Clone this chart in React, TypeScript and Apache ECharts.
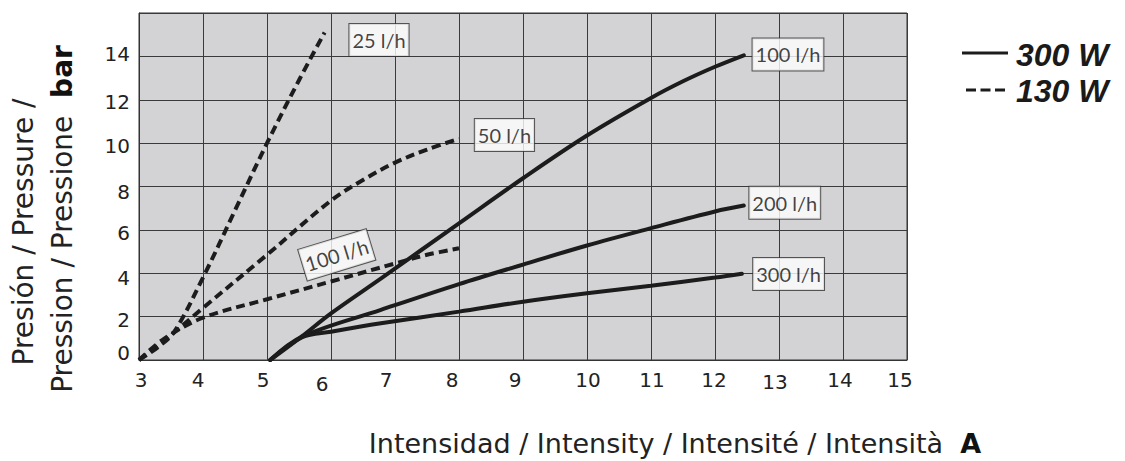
import React, { useEffect, useRef } from 'react';
import * as echarts from 'echarts';

// ---- data (Intensity A, Pressure bar) ----
const xMin = 3;
const xMax = 15;
const yMin = 0;
const yMax = 16;

// 130 W (dashed)
const dashed25 = [[3, 0], [3.3, 0.6], [3.55, 1.3], [4, 3.8], [4.5, 6.9], [5, 10], [5.5, 12.9], [5.9, 15.1]];
const dashed50 = [[3, 0], [3.4, 0.9], [4, 2.4], [5, 4.85], [6, 7.35], [6.5, 8.3], [7, 9.1], [7.5, 9.7], [8, 10.2]];
const dashed100 = [[3, 0], [3.4, 1.0], [4, 1.95], [5, 2.8], [6, 3.62], [7, 4.45], [7.5, 4.85], [8, 5.15]];

// 300 W (solid)
const solid100 = [[5.05, 0], [5.55, 1.1], [6, 2.15], [6.8, 3.8], [8, 6.3], [9, 8.38], [10, 10.35], [11, 12.08], [11.5, 12.85], [12, 13.52], [12.45, 14.05]];
const solid200 = [[5.05, 0], [5.55, 1.08], [6.78, 2.31], [8, 3.5], [9, 4.4], [10, 5.28], [11, 6.08], [12, 6.85], [12.45, 7.12]];
const solid300 = [[5.05, 0], [5.55, 1.05], [6, 1.3], [6.78, 1.69], [8, 2.23], [9, 2.69], [10, 3.08], [11, 3.42], [12, 3.8], [12.42, 3.98]];

// curve labels (anchor in data units)
const labelNames = ['25 l/h', '50 l/h', '100 l/h', '100 l/h', '200 l/h', '300 l/h'];
const labelX = [6.75, 8.71, 6.09, 13.14, 13.09, 13.15];
const labelY = [14.75, 10.38, 4.85, 14.09, 7.25, 3.97];
const labelRotate = [0, 0, 17, 0, 0, 0];

const legendNames = ['300 W', '130 W'];
const xTitle = 'Intensidad / Intensity / Intensité / Intensità  ';
const xUnit = 'A';
const yTitle1 = 'Presión / Pressure /';
const yTitle2 = 'Pression / Pressione  ';
const yUnit = 'bar';

// small per-label nudges of the tick labels (style only)
const xLabelShift: Record<number, [number, number]> = {
  3: [2, 0], 4: [-5, 0], 5: [-4, 0], 6: [-9, 4], 7: [-9, 0], 8: [-7, 0], 9: [-8, 0],
  10: [1, 0], 11: [1, 0], 12: [-1, 0], 13: [-4, 2], 14: [-3, 0], 15: [-7, 0],
};
const yLabelShift: Record<number, number> = { 0: -7, 2: 3, 4: 5, 6: 3, 8: 5, 10: 3, 12: 2, 14: -2 };

const FONT = 'DejaVu Sans';
const BOX_FONT = 'Lato';
const INK = '#1c1c1c';

function buildRichX() {
  const rich: Record<string, any> = {};
  Object.keys(xLabelShift).forEach((k) => {
    const [dx, dy] = xLabelShift[Number(k)];
    rich['x' + k] = {
      padding: [Math.max(dy, 0), dx < 0 ? -2 * dx : 0, 0, dx > 0 ? 2 * dx : 0],
    };
  });
  return rich;
}
function buildRichY() {
  const rich: Record<string, any> = {};
  Object.keys(yLabelShift).forEach((k) => {
    const dy = yLabelShift[Number(k)];
    rich['y' + k] = {
      padding: [dy > 0 ? 2 * dy : 0, 0, dy < 0 ? -2 * dy : 0, 0],
    };
  });
  return rich;
}

export default function App() {
  const ref = useRef<HTMLDivElement>(null);
  useEffect(() => {
    if (!ref.current) return;
    const chart = echarts.init(ref.current, null, { renderer: 'svg' });
    const solidStyle = { color: INK, width: 4, type: 'solid' as const, cap: 'round' as const };
    const dashStyle = { color: INK, width: 4, type: [9, 5] as any, cap: 'butt' as const };
    const mk = (name: string, data: number[][], ls: any) => ({
      type: 'line', name, data, showSymbol: false, smooth: 0.35,
      lineStyle: ls, silent: true, z: 3,
    });
    const labelData = labelNames.map((n, i) => ({
      name: n,
      value: [labelX[i], labelY[i]],
      label: { rotate: labelRotate[i] },
    }));
    const option: any = {
      animation: false,
      textStyle: { fontFamily: FONT },
      grid: {
        left: 139, right: 218, top: 13, bottom: 101, show: true,
        backgroundColor: '#d3d3d5', borderColor: '#333', borderWidth: 1,
      },
      xAxis: {
        type: 'value', min: xMin, max: xMax, interval: 1,
        axisLine: { show: true, lineStyle: { color: '#333', width: 1 } },
        axisTick: { show: false },
        splitLine: { show: true, lineStyle: { color: '#3a3a3a', width: 1 } },
        axisLabel: {
          margin: 10, fontSize: 20, color: '#222', fontFamily: FONT,
          formatter: (v: number) => `{x${v}|${v}}`, rich: buildRichX(),
        },
      },
      yAxis: {
        type: 'value', min: yMin, max: yMax, interval: 2,
        axisLine: { show: true, lineStyle: { color: '#333', width: 1 } },
        axisTick: { show: false },
        splitLine: { show: true, lineStyle: { color: '#3a3a3a', width: 1 } },
        axisLabel: {
          margin: 9, fontSize: 20, color: '#222', fontFamily: FONT,
          formatter: (v: number) => (v === yMax ? '' : `{y${v}|${v}}`), rich: buildRichY(),
        },
      },
      series: [
        mk('25 l/h 130 W', dashed25, dashStyle),
        mk('50 l/h 130 W', dashed50, dashStyle),
        mk('100 l/h 130 W', dashed100, dashStyle),
        mk('100 l/h 300 W', solid100, solidStyle),
        mk('200 l/h 300 W', solid200, solidStyle),
        mk('300 l/h 300 W', solid300, solidStyle),
        {
          type: 'scatter', name: 'labels', data: labelData, symbolSize: 1,
          itemStyle: { color: 'rgba(0,0,0,0)' }, silent: true, z: 5,
          label: {
            show: true, position: 'inside', formatter: (p: any) => p.name,
            fontSize: 20, fontFamily: BOX_FONT, color: '#111',
            backgroundColor: '#fff', borderColor: '#333', borderWidth: 1,
            padding: [6, 3, 5, 3], lineHeight: 21,
          },
        },
      ],
      graphic: [
        {
          type: 'text', x: 23, y: 232, rotation: Math.PI / 2,
          style: { text: yTitle1, fontSize: 28, fontFamily: FONT, fill: '#222', align: 'center', verticalAlign: 'middle' },
        },
        {
          type: 'text', x: 62, y: 219, rotation: Math.PI / 2,
          style: {
            text: `{a|${yTitle2}}{b|${yUnit}}`, align: 'center', verticalAlign: 'middle',
            rich: {
              a: { fontSize: 28, fontFamily: FONT, fill: '#222', color: '#222' },
              b: { fontSize: 28, fontFamily: FONT, fontWeight: 'bold', fill: '#111', color: '#111' },
            },
          },
        },
        {
          type: 'text', x: 675, y: 443,
          style: {
            text: `{a|${xTitle}}{b|${xUnit}}`, align: 'center', verticalAlign: 'middle',
            rich: {
              a: { fontSize: 27, fontFamily: FONT, fill: '#222', color: '#222' },
              b: { fontSize: 27, fontFamily: FONT, fontWeight: 'bold', fill: '#111', color: '#111' },
            },
          },
        },
        { type: 'line', shape: { x1: 962, y1: 53, x2: 1008, y2: 53 }, style: { stroke: INK, lineWidth: 3 } },
        { type: 'line', shape: { x1: 966, y1: 90, x2: 1005, y2: 90 }, style: { stroke: INK, lineWidth: 3, lineDash: [10, 4.5] } },
        {
          type: 'text', x: 1016, y: 55,
          style: { text: legendNames[0], fontSize: 32, fontFamily: 'Liberation Sans', fontWeight: 'bold', fontStyle: 'italic', fill: '#1a1a1a', align: 'left', verticalAlign: 'middle' },
        },
        {
          type: 'text', x: 1016, y: 91,
          style: { text: legendNames[1], fontSize: 32, fontFamily: 'Liberation Sans', fontWeight: 'bold', fontStyle: 'italic', fill: '#1a1a1a', align: 'left', verticalAlign: 'middle' },
        },
      ],
    };
    chart.setOption(option);
    return () => chart.dispose();
  }, []);
  return (
    <div
      ref={ref}
      style={{ position: 'fixed', left: 0, top: 0, width: 1125, height: 461, background: '#fff' }}
    />
  );
}
